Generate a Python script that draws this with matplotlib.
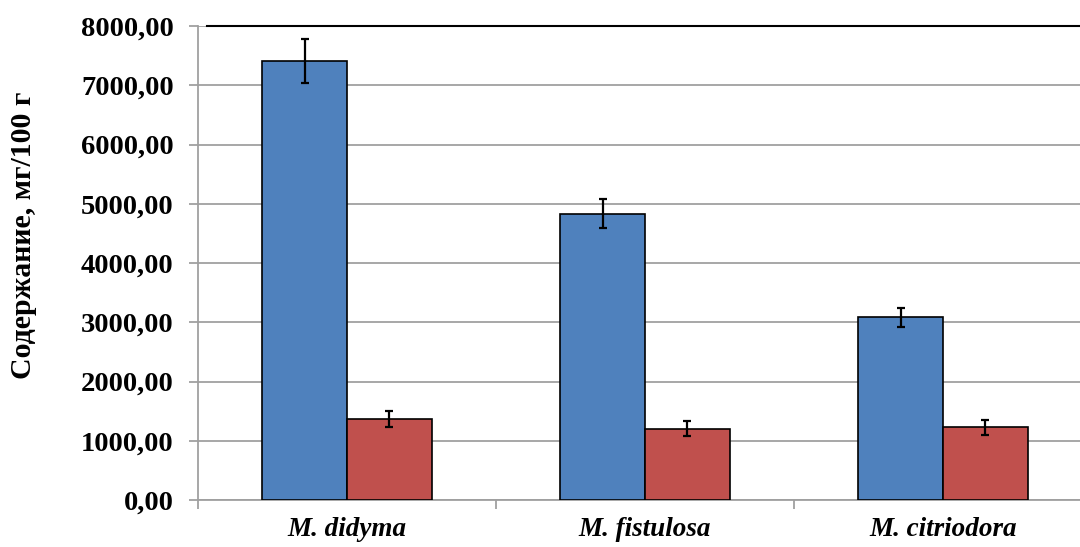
import matplotlib.pyplot as plt
import numpy as np
from matplotlib.ticker import FuncFormatter

# Data
species = ["M. didyma", "M. fistulosa", "M. citriodora"]
blue_vals = [7414, 4831, 3086]
blue_err = [370, 245, 158]
red_vals = [1373, 1204, 1228]
red_err = [135, 127, 127]
y_ticks = [0, 1000, 2000, 3000, 4000, 5000, 6000, 7000, 8000]

plt.rcParams['font.family'] = ['Liberation Serif', 'DejaVu Serif']

fig = plt.figure(figsize=(10.8, 5.47), dpi=100)
# right edge of the plot area lies just outside the picture, as in the reference
ax = fig.add_axes([198 / 1080, 47 / 547, (1092 - 198) / 1080, (500 - 26) / 547])

x = np.arange(len(species))
w = 0.285
err_kw = dict(ecolor='black', elinewidth=1.6, capsize=3, capthick=1.6)
ax.bar(x - w / 2, blue_vals, w, yerr=blue_err, color='#4F81BD',
       edgecolor='black', linewidth=1.2, error_kw=err_kw, zorder=3)
ax.bar(x + w / 2, red_vals, w, yerr=red_err, color='#C0504D',
       edgecolor='black', linewidth=1.2, error_kw=err_kw, zorder=3)

ax.set_xlim(-0.5, 2.5)
ax.set_ylim(0, 8000)
ax.set_yticks(y_ticks)
ax.yaxis.set_major_formatter(FuncFormatter(lambda v, p: f"{v:.2f}".replace('.', ',')))
ax.yaxis.grid(True, color='#A0A0A0', linewidth=1.3, zorder=0)

# ticks at category boundaries, labels at centers
ax.set_xticks([-0.5, 0.5, 1.5, 2.5])
ax.set_xticklabels([])
ax.set_xticks(x, minor=True)
ax.set_xticklabels(species, minor=True, fontsize=19.5, fontweight='bold', style='italic')
ax.tick_params(axis='x', which='minor', length=0, pad=12)
ax.tick_params(axis='x', which='major', length=6.5, width=1.3, color='#A0A0A0')
ax.tick_params(axis='y', length=6.5, width=1.3, color='#A0A0A0', pad=11,
               labelsize=20.5)
for lab in ax.get_yticklabels():
    lab.set_fontweight('bold')

fig.text(24 / 1080, 1 - 235 / 547, "Содержание, мг/100 г", fontsize=21.5,
         fontweight='bold', rotation=90, ha='center', va='center')

for s in ['left', 'bottom']:
    ax.spines[s].set_color('#A0A0A0')
    ax.spines[s].set_linewidth(1.3)
ax.spines['top'].set_color('black')
ax.spines['top'].set_linewidth(1.5)
ax.spines['top'].set_bounds(-0.47, 2.5)
ax.spines['right'].set_visible(False)

fig.savefig('out.png', dpi=100)
